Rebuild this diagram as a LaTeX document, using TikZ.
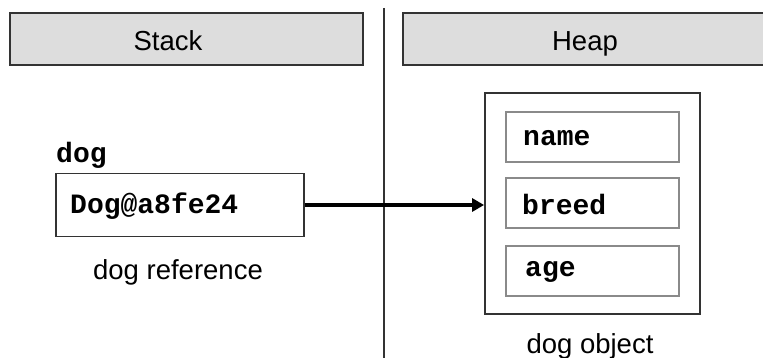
\documentclass[tikz,border=0pt]{standalone}
\usepackage{fontspec}
\setmainfont{Liberation Sans}
\setmonofont{Liberation Mono}
\usetikzlibrary{arrows.meta}
\definecolor{hdrfill}{HTML}{DDDDDD}
\definecolor{edgedark}{HTML}{333333}
\definecolor{fieldedge}{HTML}{8A8A8A}
\tikzset{
  hdr/.style={draw=edgedark, line width=1.5pt, fill=hdrfill},
  lbl/.style={font=\fontsize{27.5}{30}\selectfont, inner sep=0pt},
  code/.style={font=\fontsize{28}{30}\selectfont\ttfamily\bfseries, inner sep=0pt},
  fieldbox/.style={draw=fieldedge, line width=1.2pt},
  objbox/.style={draw=edgedark, line width=1.8pt},
}
\begin{document}
\begin{tikzpicture}[x=1pt,y=-1pt]
\useasboundingbox (0,0) rectangle (763,358);
% header boxes
\draw[hdr] (10,13) rectangle (363,65);
\node[lbl, anchor=base] (stack) at (168,51) {Stack};
\draw[hdr] (403,13) rectangle (766,65);
\node[lbl, anchor=base] (heap) at (585,51) {Heap};
% divider
\draw[edgedark, line width=1.5pt] (384,8) -- (384,360);
% stack side
\node[code, anchor=west] (doglbl) at (56,155) {dog};
\node[objbox, minimum width=248pt, minimum height=63pt, inner sep=0pt] (ref) at (180,205) {};
\node[code, anchor=west] (reftext) at (70,206) {Dog@a8fe24};
\node[lbl] (refcap) at (178,272) {dog reference};
% heap object
\node[objbox, minimum width=215pt, minimum height=221pt, inner sep=0pt] (obj) at (592.5,203.5) {};
\node[fieldbox, minimum width=173pt, minimum height=50pt, inner sep=0pt] (fname) at (592.5,137) {};
\node[fieldbox, minimum width=173pt, minimum height=50pt, inner sep=0pt] (fbreed) at (592.5,203) {};
\node[fieldbox, minimum width=173pt, minimum height=50pt, inner sep=0pt] (fage) at (592.5,271) {};
\node[code, anchor=west] (tname) at (523,138) {name};
\node[code, anchor=west] (tbreed) at (522,204) {breed};
\node[code, anchor=west] (tage) at (525,272) {age};
\node[lbl] (objcap) at (590,346) {dog object};
% arrow
\draw[line width=4pt, -{Triangle[length=12pt,width=13pt]}] (ref.east) -- (obj.west |- ref.east);
\end{tikzpicture}
\end{document}
